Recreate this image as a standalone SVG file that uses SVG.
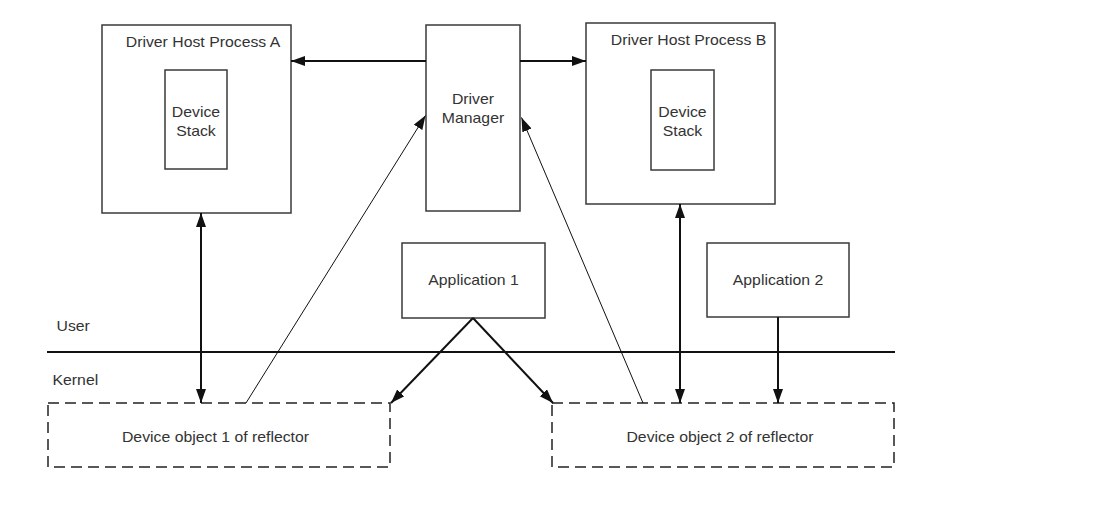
<svg xmlns="http://www.w3.org/2000/svg" width="1103" height="506" viewBox="0 0 1103 506">
  <style>
    .box { fill: #ffffff; stroke: #3a3a3a; stroke-width: 1.5; }
    .dash { fill: none; stroke: #222; stroke-width: 1.5; stroke-dasharray: 11 6; }
    .t { font-family: "Liberation Sans", Arial, sans-serif; font-size: 14px; fill: #333; }
    .c { text-anchor: middle; }
    .thick { fill: none; stroke: #111; stroke-width: 2; }
    .thin { fill: none; stroke: #111; stroke-width: 1; }
  </style>
  <defs>
    <marker id="ah" markerUnits="userSpaceOnUse" markerWidth="15" markerHeight="11" refX="14" refY="5" orient="auto-start-reverse">
      <path d="M0,0 L14,5 L0,10 z" fill="#111"/>
    </marker>
  </defs>
  <rect width="1103" height="506" fill="#ffffff"/>

  <g id="hostA">
    <rect class="box" x="102" y="25" width="189" height="188"/>
    <text class="t c" transform="translate(203,46.5) scale(1.13,1)">Driver Host Process A</text>
  </g>
  <g id="stackA">
    <rect class="box" x="165" y="70" width="62" height="99"/>
    <text class="t c" transform="translate(196,117) scale(1.13,1)">Device</text>
    <text class="t c" transform="translate(196,136) scale(1.13,1)">Stack</text>
  </g>
  <g id="manager">
    <rect class="box" x="426" y="25" width="94" height="186"/>
    <text class="t c" transform="translate(473,104) scale(1.13,1)">Driver</text>
    <text class="t c" transform="translate(473,122.5) scale(1.13,1)">Manager</text>
  </g>
  <g id="hostB">
    <rect class="box" x="586" y="23" width="189" height="181"/>
    <text class="t c" transform="translate(688.5,44.5) scale(1.13,1)">Driver Host Process B</text>
  </g>
  <g id="stackB">
    <rect class="box" x="651" y="70" width="63" height="100"/>
    <text class="t c" transform="translate(682.5,117) scale(1.13,1)">Device</text>
    <text class="t c" transform="translate(682.5,136) scale(1.13,1)">Stack</text>
  </g>
  <g id="app1">
    <rect class="box" x="402" y="243" width="143" height="75"/>
    <text class="t c" transform="translate(473.5,284.5) scale(1.13,1)">Application 1</text>
  </g>
  <g id="app2">
    <rect class="box" x="707" y="243" width="142" height="74"/>
    <text class="t c" transform="translate(778,284.5) scale(1.13,1)">Application 2</text>
  </g>
  <g id="boundary">
    <line x1="47" y1="352" x2="895" y2="352" stroke="#111" stroke-width="2"/>
    <text class="t" transform="translate(56.5,331) scale(1.13,1)">User</text>
    <text class="t" transform="translate(52.5,384.5) scale(1.13,1)">Kernel</text>
  </g>
  <g id="devobj1">
    <rect class="dash" x="48" y="403" width="342" height="64"/>
    <text class="t c" transform="translate(215.5,442) scale(1.13,1)">Device object 1 of reflector</text>
  </g>
  <g id="devobj2">
    <rect class="dash" x="552" y="403" width="342" height="64"/>
    <text class="t c" transform="translate(720,442) scale(1.13,1)">Device object 2 of reflector</text>
  </g>

  <g id="connectors">
    <line class="thick" x1="426" y1="61" x2="291" y2="61" marker-end="url(#ah)"/>
    <line class="thick" x1="520" y1="61" x2="586" y2="61" marker-end="url(#ah)"/>
    <line class="thick" x1="201" y1="213" x2="201" y2="403" marker-start="url(#ah)" marker-end="url(#ah)"/>
    <line class="thick" x1="680" y1="204" x2="680" y2="403" marker-start="url(#ah)" marker-end="url(#ah)"/>
    <line class="thick" x1="778" y1="317" x2="778" y2="403" marker-end="url(#ah)"/>
    <polyline class="thick" points="473,318 391,403" marker-end="url(#ah)"/>
    <polyline class="thick" points="473,318 553,403" marker-end="url(#ah)"/>
    <line class="thin" x1="246" y1="403" x2="425.5" y2="115.5" marker-end="url(#ah)"/>
    <line class="thin" x1="643" y1="403" x2="521.5" y2="117.5" marker-end="url(#ah)"/>
  </g>
</svg>
